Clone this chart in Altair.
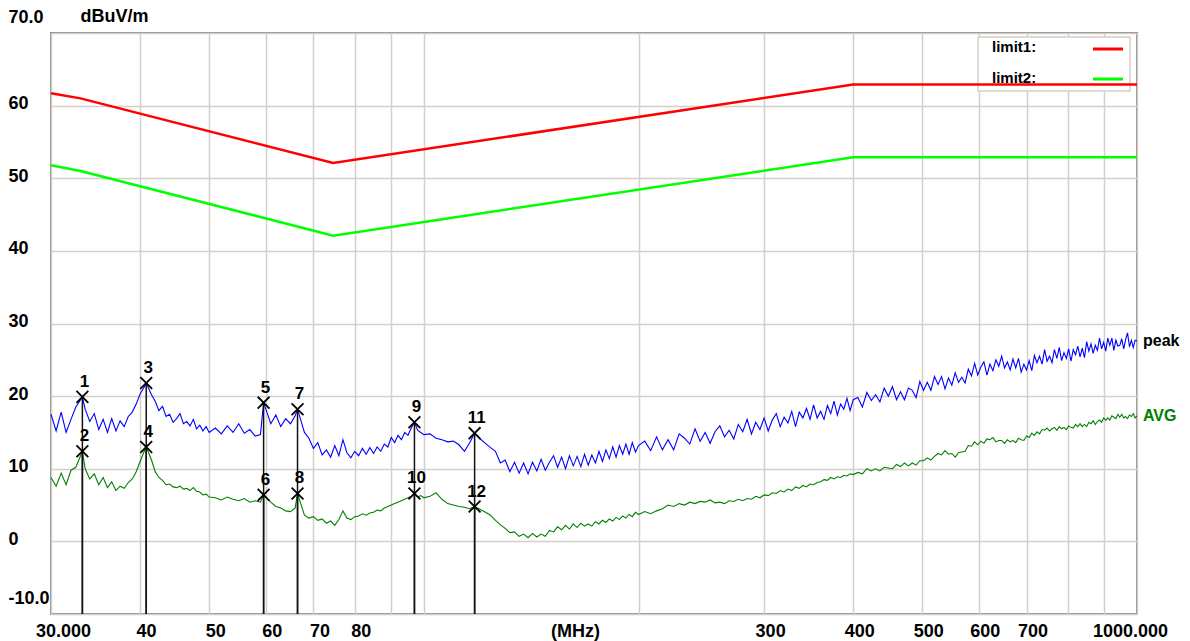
import altair as alt
import pandas as pd

# ---------------- data ----------------
freq = [
    30.0, 30.5, 31.0, 31.5, 32.0, 32.5, 33.2, 33.5, 34.0, 34.5, 35.0, 35.5, 36.0, 36.5, 37.0, 37.5,
    38.0, 38.5, 39.0, 39.5, 40.0, 40.5, 40.8, 41.5, 42.0, 42.5, 43.0, 43.5, 44.0, 44.5, 45.0, 45.5,
    46.0, 46.5, 47.0, 47.5, 48.0, 48.5, 49.0, 49.5, 50.0,
    51, 52, 53, 54, 55, 56, 57, 58, 59, 59.6, 61, 62, 63, 64, 65, 66, 66.5, 68, 69, 70,
    71, 72, 73, 74, 75, 76, 77, 78, 79, 80, 81, 82, 83, 84, 85, 86, 87, 88, 89, 90,
    91, 92, 93, 94, 95, 96, 97, 98, 99, 100,
    102, 104, 106, 108, 110, 112, 114, 116, 117.8, 120, 122, 124, 126, 128, 130, 132, 134, 136, 138, 140,
    142, 144, 146, 148, 150, 152, 154, 156, 158, 160, 162, 164, 166, 168, 170, 172, 174, 176, 178, 180,
    182, 184, 186, 188, 190, 192, 194, 196, 198, 200,
    204, 208, 212, 216, 220, 224, 228, 232, 236, 240, 244, 248, 252, 256, 260, 264, 268, 272, 276, 280,
    284, 288, 292, 296, 300, 304, 308, 312, 316, 320, 324, 328, 332, 336, 340, 344, 348, 352, 356, 360,
    364, 368, 372, 376, 380, 384, 388, 392, 396, 400,
    406, 412, 418, 424, 430, 436, 442, 448, 454, 460, 466, 472, 478, 484, 490, 496, 502, 508, 514, 520,
    526, 532, 538, 544, 550, 556, 562, 568, 574, 580, 586, 592, 598, 604, 610, 616, 622, 628, 634, 640,
    646, 652, 658, 664, 670, 676, 682, 688, 694, 700, 706, 712, 718, 724, 730, 736, 742, 748, 754, 760,
    766, 772, 778, 784, 790, 796, 802, 808, 814, 820, 826, 832, 838, 844, 850, 856, 862, 868, 874, 880,
    886, 892, 898, 904, 910, 916, 922, 928, 934, 940, 946, 952, 958, 964, 970, 976, 982, 988, 994, 1000,
]

peak = [
    17.5, 15.2, 17.8, 15.0, 16.8, 18.5, 19.9, 18.2, 16.5, 17.6, 15.4, 16.8, 15.0, 16.9, 15.2, 16.6,
    15.8, 17.2, 17.8, 18.9, 20.3, 21.2, 21.8, 20.2, 19.3, 18.0, 18.6, 17.2, 17.5, 16.4, 16.9, 17.6,
    16.2, 16.5, 15.9, 16.8, 15.5, 16.0, 15.2, 15.8, 15.0,
    15.6, 14.8, 15.9, 15.0, 16.2, 14.9, 15.4, 14.5, 14.7, 19.1, 16.2, 17.4, 15.8, 16.9, 16.2, 17.3, 18.2, 15.0, 14.2, 12.8,
    13.6, 11.9, 12.6, 11.6, 13.2, 11.8, 14.0, 12.2, 11.5, 12.4, 11.8, 12.8, 12.0, 12.9, 12.1, 13.0, 12.4, 13.4, 13.0, 14.3,
    13.6, 14.6, 14.0, 15.0, 14.6, 15.6, 16.4, 15.3, 15.0, 14.7,
    14.8, 14.2, 14.0, 13.7, 13.8, 13.3, 12.4, 13.6, 14.9, 14.1, 13.5, 12.9,
    12.4, 10.8, 11.2, 9.6, 10.9, 9.4, 10.8, 9.3, 10.9, 9.7, 11.3, 9.8, 10.9, 11.8, 10.2, 11.6, 10.0, 11.8, 10.4, 11.7,
    10.3, 12.0, 10.5, 11.9, 10.8, 12.4, 11.0, 12.6, 11.4, 13.0, 11.6, 13.2, 12.0, 13.4, 12.0, 13.6, 12.3, 13.2,
    13.8, 12.5, 14.4, 12.6, 14.0, 12.6, 14.8, 14.2, 13.4, 15.5, 13.8, 15.0, 13.5, 15.1, 15.9, 14.4, 15.3, 14.1, 16.1, 15.1,
    16.8, 14.8, 16.4, 15.4, 17.0, 15.2, 16.7, 17.6, 15.8, 17.1, 16.3, 17.9, 15.8, 17.8, 17.0, 18.3, 16.8, 18.8, 17.0, 17.9,
    16.8, 18.7, 17.6, 19.3, 17.4, 18.9, 18.2, 19.7, 18.0, 19.5,
    19.8, 18.5, 20.5, 19.4, 20.2, 19.2, 21.1, 20.0, 21.3, 19.5, 20.6, 19.5, 21.1, 20.8, 19.8, 22.0, 20.8, 21.9, 20.8, 22.7,
    21.6, 22.7, 21.0, 22.5, 21.5, 23.2, 21.9, 22.6, 21.8, 23.7, 22.8, 24.5, 22.9, 24.0, 24.7, 22.9, 24.4, 23.5, 25.0, 24.1,
    25.5, 23.9, 24.7, 23.6, 25.1, 23.9, 25.2, 23.3, 24.4, 23.6, 24.9, 23.5, 25.6, 24.6, 25.5, 24.4, 26.4, 24.8, 25.5, 24.6,
    26.4, 25.2, 26.7, 24.9, 26.0, 25.2, 26.5, 24.8, 26.4, 25.7, 26.9, 25.4, 26.6, 25.3, 27.5, 26.2, 27.2, 25.9, 27.0, 26.3,
    28.0, 26.5, 27.4, 26.2, 28.0, 27.0, 28.0, 26.3, 27.7, 26.9, 27.0, 27.9, 26.5, 27.8, 28.7, 26.8, 27.7, 26.7, 27.7, 27.6,
]

avg = [
    8.8, 7.6, 9.4, 7.8, 9.8, 10.2, 12.4, 10.0, 8.6, 9.3, 7.8, 8.8, 7.4, 8.2, 7.0, 7.6,
    7.3, 8.1, 8.6, 9.6, 11.0, 12.3, 13.0, 11.2, 9.6, 8.8, 8.4, 7.8, 7.9, 7.5, 7.4, 7.6,
    7.2, 7.3, 7.0, 7.4, 6.9, 6.8, 6.4, 6.5, 6.1,
    6.0, 5.7, 6.1, 5.8, 5.6, 5.9, 5.4, 5.6, 5.4, 6.4, 5.4, 4.8, 4.6, 4.2, 4.1, 4.6, 6.6, 3.6, 3.2, 3.4,
    2.9, 3.1, 2.5, 2.8, 2.2, 3.0, 4.2, 3.2, 3.0, 3.4, 3.5, 3.8, 3.6, 3.9, 4.0, 4.3, 4.2, 4.6, 4.8, 5.0,
    5.2, 5.4, 5.6, 5.8, 6.0, 6.2, 6.6, 6.1, 6.3, 6.0,
    6.2, 6.7, 5.8, 5.2, 5.0, 4.8, 4.7, 4.5, 4.8, 4.4, 4.0, 3.6, 2.9, 2.3,
    1.8, 1.2, 1.3, 0.7, 1.0, 0.5, 1.1, 0.6, 1.0, 0.7, 1.5, 1.3, 2.0, 1.6, 2.2, 1.7, 2.4, 1.9, 2.5, 2.1,
    2.4, 2.1, 2.7, 2.4, 2.9, 2.6, 3.1, 2.8, 3.3, 3.0, 3.5, 3.2, 3.7, 3.4, 4.0, 3.7,
    4.1, 3.8, 4.2, 4.5, 5.0, 4.8, 5.2, 5.0, 5.4, 5.2, 5.5, 5.4, 5.7, 5.3, 5.4, 5.2, 5.6, 5.5, 5.8, 5.6,
    5.9, 5.8, 6.2, 6.0, 6.4, 6.3, 6.7, 6.6, 7.0, 6.8, 7.2, 7.0, 7.5, 7.3, 7.7, 7.5, 7.9, 7.8, 8.1, 8.2,
    8.5, 8.4, 8.8, 8.6, 8.9, 8.8, 9.1, 9.0, 9.3, 9.2,
    9.5, 9.3, 10.0, 9.7, 10.0, 9.7, 10.2, 10.1, 10.0, 10.6, 10.3, 10.8, 10.4, 10.8, 10.5, 11.1, 11.1, 11.5, 11.2, 11.7,
    12.1, 11.9, 12.5, 12.0, 12.1, 11.6, 12.2, 12.3, 12.4, 13.2, 13.1, 13.7, 13.3, 13.8, 13.5, 14.1, 14.0, 14.3, 13.7, 13.9,
    13.9, 13.5, 14.0, 13.7, 13.9, 13.6, 14.2, 14.0, 13.9, 14.5, 14.3, 14.9, 14.6, 15.1, 14.8, 15.4, 15.3, 15.6, 15.2, 15.5,
    15.7, 15.3, 15.8, 15.5, 15.7, 15.4, 15.9, 15.7, 15.6, 16.1, 15.8, 16.2, 15.8, 16.1, 15.8, 16.4, 16.2, 16.6, 16.1, 16.5,
    16.7, 16.4, 17.0, 16.7, 17.0, 16.7, 17.3, 17.1, 16.9, 17.5, 17.1, 17.5, 17.0, 17.2, 16.9, 17.4, 17.2, 17.6, 17.0, 17.3,
]

limit_freq = [30, 33, 74.6, 400, 1000]
limit1 = [61.7, 61.0, 52.1, 62.9, 62.9]
limit2 = [51.8, 51.0, 42.1, 52.9, 52.9]

marker_no = ["1", "2", "3", "4", "5", "6", "7", "8", "9", "10", "11", "12"]
marker_freq = [33.2, 33.2, 40.8, 40.8, 59.6, 59.6, 66.5, 66.5, 97.0, 97.0, 117.8, 117.8]
marker_level = [19.9, 12.4, 21.8, 13.0, 19.1, 6.4, 18.2, 6.6, 16.4, 6.6, 14.9, 4.8]

x_ticks = [30, 40, 50, 60, 70, 80, 90, 100, 200, 300, 400, 500, 600, 700, 800, 900, 1000]
x_tick_labels = ["30.000", "40", "50", "60", "70", "80", "", "", "", "300", "400", "500",
                 "600", "700", "", "", "1000.000"]
y_ticks = [-10, 0, 10, 20, 30, 40, 50, 60, 70]
y_tick_labels = ["-10.0", "0", "10", "20", "30", "40", "50", "60", "70.0"]

series_names = ["peak", "AVG"]
legend_names = ["limit1:", "limit2:"]

assert len(freq) == len(peak) == len(avg), (len(freq), len(peak), len(avg))

# ---------------- styling ----------------
FONT = "Liberation Sans"
GRID = "#d4d0c8"
BLUE = "#0000ff"
DGREEN = "#008000"
RED = "#ff0000"
LGREEN = "#00ff00"
BLACK = "#000000"


def label_expr(vals, labels):
    expr = "''"
    for v, l in reversed(list(zip(vals, labels))):
        expr = f"datum.value == {v} ? '{l}' : ({expr})"
    return expr


trace_df = pd.DataFrame({"freq": freq, "peak": peak, "avg": avg})
limit_df = pd.DataFrame({"freq": limit_freq, "limit1": limit1, "limit2": limit2})
marker_df = pd.DataFrame({"no": marker_no, "freq": marker_freq, "level": marker_level})
end_df = pd.DataFrame({"freq": [freq[-1], freq[-1]], "level": [peak[-1], avg[-1]],
                       "name": series_names, "color": [BLACK, DGREEN]})
one = pd.DataFrame({"a": [0]})

xscale = alt.Scale(type="log", domain=[30, 1000], nice=False)
yscale = alt.Scale(domain=[-10, 70], nice=False)

x_axis = alt.Axis(
    values=x_ticks, labelExpr=label_expr(x_ticks, x_tick_labels),
    grid=True, gridColor=GRID, gridWidth=1.5, ticks=False, tickSize=0, domain=False,
    labelFont=FONT, labelFontSize=18, labelFontWeight="bold", labelColor="black",
    labelPadding=8, labelBaseline="top", labelOverlap=False, labelFlush=False,
    labelOffset={"expr": "datum.value == 1000 ? -7 : (datum.value == 30 ? 12 : 6)"},
    title="(MHz)", titleX=524, titleY=8, titleBaseline="top", titleAlign="center",
    titleFont=FONT, titleFontSize=18, titleFontWeight="bold", titleColor="black",
)
y_axis = alt.Axis(
    values=y_ticks, labelExpr=label_expr(y_ticks, y_tick_labels),
    grid=True, gridColor=GRID, gridWidth=1.5, ticks=False, tickSize=0, domain=False,
    labelFont=FONT, labelFontSize=18, labelFontWeight="bold", labelColor="black",
    labelAlign="left", labelPadding=43, labelBaseline="middle", labelOverlap=False, labelFlush=False,
    labelOffset={"expr": "datum.value == 70 || datum.value == -10 ? -16 : -2"},
    title="dBuV/m", titleAngle=0, titleX=29, titleY=-17, titleAlign="left", titleBaseline="middle",
    titleFont=FONT, titleFontSize=18, titleFontWeight="bold", titleColor="black",
)

base_trace = alt.Chart(trace_df)
peak_line = base_trace.mark_line(color=BLUE, strokeWidth=1.1).encode(
    x=alt.X("freq:Q", scale=xscale, axis=x_axis),
    y=alt.Y("peak:Q", scale=yscale, axis=y_axis),
)
avg_line = base_trace.mark_line(color=DGREEN, strokeWidth=1.1).encode(
    x=alt.X("freq:Q", scale=xscale), y=alt.Y("avg:Q", scale=yscale)
)

lim1 = alt.Chart(limit_df).mark_line(color=RED, strokeWidth=2.5).encode(
    x=alt.X("freq:Q", scale=xscale), y=alt.Y("limit1:Q", scale=yscale)
)
lim2 = alt.Chart(limit_df).mark_line(color=LGREEN, strokeWidth=2.5).encode(
    x=alt.X("freq:Q", scale=xscale), y=alt.Y("limit2:Q", scale=yscale)
)

# legend box (top right)
leg_box = alt.Chart(one).mark_rect(fill="white", stroke=GRID, strokeWidth=1.5).encode(
    x=alt.value(927), x2=alt.value(1079), y=alt.value(4), y2=alt.value(58)
)
leg_t1 = alt.Chart(one).mark_text(font=FONT, fontSize=15, fontWeight="bold", align="left",
                                  baseline="middle", color="black").encode(
    x=alt.value(941), y=alt.value(14), text=alt.value(legend_names[0]))
leg_t2 = alt.Chart(one).mark_text(font=FONT, fontSize=15, fontWeight="bold", align="left",
                                  baseline="middle", color="black").encode(
    x=alt.value(941), y=alt.value(45), text=alt.value(legend_names[1]))
leg_l1 = alt.Chart(one).mark_rule(color=RED, strokeWidth=3).encode(
    x=alt.value(1042), x2=alt.value(1072), y=alt.value(16))
leg_l2 = alt.Chart(one).mark_rule(color=LGREEN, strokeWidth=3).encode(
    x=alt.value(1042), x2=alt.value(1072), y=alt.value(46))

# markers
m_base = alt.Chart(marker_df)
m_rule = m_base.mark_rule(color="#111111", strokeWidth=1.5).encode(
    x=alt.X("freq:Q", scale=xscale), y=alt.Y("level:Q", scale=yscale), y2=alt.datum(-10)
)
m_x = m_base.mark_point(shape="M-1,-1L1,1M1,-1L-1,1", size=140, filled=False,
                        color="black", strokeWidth=1.8, opacity=1).encode(
    x=alt.X("freq:Q", scale=xscale), y=alt.Y("level:Q", scale=yscale)
)
m_txt = m_base.mark_text(font=FONT, fontSize=17, fontWeight="bold", color="black",
                         baseline="middle", align="center", dy=-15, dx=2).encode(
    x=alt.X("freq:Q", scale=xscale), y=alt.Y("level:Q", scale=yscale), text="no:N"
)

end_txt = alt.Chart(end_df).mark_text(font=FONT, fontSize=16, fontWeight="bold",
                                      align="left", baseline="middle", dx=6).encode(
    x=alt.X("freq:Q", scale=xscale), y=alt.Y("level:Q", scale=yscale), text="name:N",
    color=alt.Color("color:N", scale=None)
)

chart = alt.layer(
    leg_box, leg_t1, leg_t2, leg_l1, leg_l2,
    lim1, lim2, avg_line, peak_line, m_rule, m_x, m_txt, end_txt,
).properties(
    width=1086, height=581, autosize="none",
    padding={"left": 51, "top": 33, "right": 53, "bottom": 27},
    background="white",
).configure_view(stroke="#8c8c8c", strokeWidth=2)

chart.save("out.html", embed_options={"renderer": "svg", "actions": False})
